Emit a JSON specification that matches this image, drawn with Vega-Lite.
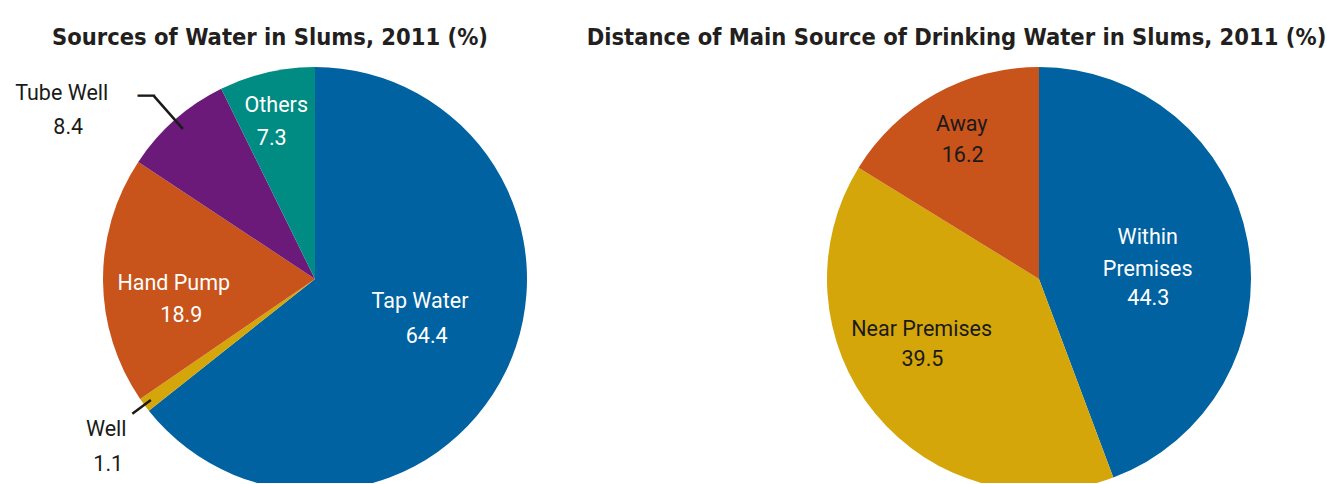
{
  "$schema": "https://vega.github.io/schema/vega-lite/v6.json",
  "background": "white",
  "padding": {"top": 25, "left": 0, "right": 0, "bottom": 0},
  "bounds": "flush",
  "spacing": 121,
  "config": {"view": {"stroke": null}},
  "datasets": {
    "sources": [
      {"source": "Tap Water", "value": 64.4, "order": 1},
      {"source": "Well", "value": 1.1, "order": 2},
      {"source": "Hand Pump", "value": 18.9, "order": 3},
      {"source": "Tube Well", "value": 8.4, "order": 4},
      {"source": "Others", "value": 7.3, "order": 5}
    ],
    "distance": [
      {"source": "Within Premises", "value": 44.3, "order": 1},
      {"source": "Near Premises", "value": 39.5, "order": 2},
      {"source": "Away", "value": 16.2, "order": 3}
    ]
  },
  "hconcat": [
    {
      "width": 630,
      "height": 424,
      "data": {"name": "sources"},
      "title": {"text": "Sources of Water in Slums, 2011 (%)", "frame": "group", "font": "DejaVu Sans Condensed", "fontSize": 23.5, "fontWeight": "bold", "color": "#231f20", "anchor": "middle", "baseline": "alphabetic", "offset": -9, "dx": -45},
      "encoding": {
        "theta": {"field": "value", "type": "quantitative", "stack": true},
        "order": {"field": "order", "type": "quantitative"},
        "detail": {"field": "source", "type": "nominal"}
      },
      "layer": [
        {"mark": {"type": "arc", "radius": 212, "yOffset": 8, "clip": true},
         "encoding": {"color": {"field": "source", "type": "nominal", "legend": null,
           "scale": {"domain": ["Tap Water", "Well", "Hand Pump", "Tube Well", "Others"], "range": ["#0062a0", "#d4a60a", "#c8531b", "#6b1a7a", "#008c82"]}}}},
        {"mark": {"type": "arc", "radius": 244, "radius2": 200, "padAngle": 3, "yOffset": 8, "clip": true, "fillOpacity": 0, "stroke": "#1a1a1a", "strokeWidth": 2.5},
         "encoding": {"strokeOpacity": {"condition": {"test": "datum.source === 'Tube Well'", "value": 1}, "value": 0}}},
        {"mark": {"type": "arc", "radius": 227, "radius2": 204, "padAngle": 3, "yOffset": 8, "clip": true, "fillOpacity": 0, "stroke": "#1a1a1a", "strokeWidth": 2.5},
         "encoding": {"strokeOpacity": {"condition": {"test": "datum.source === 'Well'", "value": 1}, "value": 0}}},
        {"mark": {"type": "text", "radius": 249, "dx": -4.2, "dy": 16.3, "clip": true, "baseline": "alphabetic", "font": "Liberation Sans", "fontSize": 16.5, "fill": "#1a1a1a", "stroke": "#1a1a1a", "strokeWidth": 1},
         "encoding": {"text": {"condition": {"test": "datum.source === 'Tube Well'", "value": "—"}, "value": ""}}},

        {"mark": {"type": "text", "radius": 120, "dx": -3, "dy": -14.9, "clip": true, "baseline": "alphabetic", "font": "Roboto", "fontSize": 21.5, "fill": "#ffffff"},
         "encoding": {"text": {"condition": {"test": "datum.source === 'Tap Water'", "field": "source", "type": "nominal"}, "value": ""}}},
        {"mark": {"type": "text", "radius": 120, "dx": 3.7, "dy": 19.8, "clip": true, "baseline": "alphabetic", "font": "Roboto", "fontSize": 21.5, "fill": "#ffffff"},
         "encoding": {"text": {"condition": {"test": "datum.source === 'Tap Water'", "field": "value", "type": "quantitative", "format": ".1f"}, "value": ""}}},

        {"mark": {"type": "text", "radius": 138, "dx": -3.2, "dy": 17.6, "clip": true, "baseline": "alphabetic", "font": "Roboto", "fontSize": 21.5, "fill": "#ffffff"},
         "encoding": {"text": {"condition": {"test": "datum.source === 'Hand Pump'", "field": "source", "type": "nominal"}, "value": ""}}},
        {"mark": {"type": "text", "radius": 138, "dx": 4.3, "dy": 50.2, "clip": true, "baseline": "alphabetic", "font": "Roboto", "fontSize": 21.5, "fill": "#ffffff"},
         "encoding": {"text": {"condition": {"test": "datum.source === 'Hand Pump'", "field": "value", "type": "quantitative", "format": ".1f"}, "value": ""}}},

        {"mark": {"type": "text", "radius": 160, "dx": -2.4, "dy": -2.9, "clip": true, "baseline": "alphabetic", "font": "Roboto", "fontSize": 21.5, "fill": "#ffffff"},
         "encoding": {"text": {"condition": {"test": "datum.source === 'Others'", "field": "source", "type": "nominal"}, "value": ""}}},
        {"mark": {"type": "text", "radius": 160, "dx": -6.9, "dy": 29.8, "clip": true, "baseline": "alphabetic", "font": "Roboto", "fontSize": 21.5, "fill": "#ffffff"},
         "encoding": {"text": {"condition": {"test": "datum.source === 'Others'", "field": "value", "type": "quantitative", "format": ".1f"}, "value": ""}}},

        {"mark": {"type": "text", "radius": 280, "dx": -68.3, "dy": 38.9, "clip": true, "baseline": "alphabetic", "font": "Roboto", "fontSize": 21.5, "fill": "#1a1a1a"},
         "encoding": {"text": {"condition": {"test": "datum.source === 'Tube Well'", "field": "source", "type": "nominal"}, "value": ""}}},
        {"mark": {"type": "text", "radius": 280, "dx": -61.7, "dy": 73.2, "clip": true, "baseline": "alphabetic", "font": "Roboto", "fontSize": 21.5, "fill": "#1a1a1a"},
         "encoding": {"text": {"condition": {"test": "datum.source === 'Tube Well'", "field": "value", "type": "quantitative", "format": ".1f"}, "value": ""}}},

        {"mark": {"type": "text", "radius": 260, "dx": 0.5, "dy": 10.9, "clip": true, "baseline": "alphabetic", "font": "Roboto", "fontSize": 21.5, "fill": "#1a1a1a"},
         "encoding": {"text": {"condition": {"test": "datum.source === 'Well'", "field": "source", "type": "nominal"}, "value": ""}}},
        {"mark": {"type": "text", "radius": 260, "dx": 2.5, "dy": 45.3, "clip": true, "baseline": "alphabetic", "font": "Roboto", "fontSize": 21.5, "fill": "#1a1a1a"},
         "encoding": {"text": {"condition": {"test": "datum.source === 'Well'", "field": "value", "type": "quantitative", "format": ".1f"}, "value": ""}}}
      ]
    },
    {
      "width": 576,
      "height": 424,
      "data": {"name": "distance"},
      "title": {"text": "Distance of Main Source of Drinking Water in Slums, 2011 (%)", "frame": "group", "font": "DejaVu Sans Condensed", "fontSize": 23.5, "fontWeight": "bold", "color": "#231f20", "anchor": "middle", "baseline": "alphabetic", "offset": -9, "dx": -82.5},
      "encoding": {
        "theta": {"field": "value", "type": "quantitative", "stack": true},
        "order": {"field": "order", "type": "quantitative"},
        "detail": {"field": "source", "type": "nominal"}
      },
      "layer": [
        {"mark": {"type": "arc", "radius": 212, "yOffset": 8, "clip": true},
         "encoding": {"color": {"field": "source", "type": "nominal", "legend": null,
           "scale": {"domain": ["Within Premises", "Near Premises", "Away"], "range": ["#0062a0", "#d4a60a", "#c8531b"]}}}},

        {"mark": {"type": "text", "radius": 112, "dx": -1.5, "dy": -7.05, "clip": true, "baseline": "alphabetic", "lineBreak": " ", "lineHeight": 31.7, "font": "Roboto", "fontSize": 21.5, "fill": "#ffffff"},
         "encoding": {"text": {"condition": {"test": "datum.source === 'Within Premises'", "field": "source", "type": "nominal"}, "value": ""}}},
        {"mark": {"type": "text", "radius": 112, "dx": -0.9, "dy": 53.65, "clip": true, "baseline": "alphabetic", "font": "Roboto", "fontSize": 21.5, "fill": "#ffffff"},
         "encoding": {"text": {"condition": {"test": "datum.source === 'Within Premises'", "field": "value", "type": "quantitative", "format": ".1f"}, "value": ""}}},

        {"mark": {"type": "text", "radius": 140, "dx": -9.2, "dy": -23.7, "clip": true, "baseline": "alphabetic", "font": "Roboto", "fontSize": 21.5, "fill": "#1a1a1a"},
         "encoding": {"text": {"condition": {"test": "datum.source === 'Near Premises'", "field": "source", "type": "nominal"}, "value": ""}}},
        {"mark": {"type": "text", "radius": 140, "dx": -8.4, "dy": 6.3, "clip": true, "baseline": "alphabetic", "font": "Roboto", "fontSize": 21.5, "fill": "#1a1a1a"},
         "encoding": {"text": {"condition": {"test": "datum.source === 'Near Premises'", "field": "value", "type": "quantitative", "format": ".1f"}, "value": ""}}},

        {"mark": {"type": "text", "radius": 150, "dx": -4.2, "dy": -9.3, "clip": true, "baseline": "alphabetic", "font": "Roboto", "fontSize": 21.5, "fill": "#1a1a1a"},
         "encoding": {"text": {"condition": {"test": "datum.source === 'Away'", "field": "source", "type": "nominal"}, "value": ""}}},
        {"mark": {"type": "text", "radius": 150, "dx": -3.2, "dy": 21.7, "clip": true, "baseline": "alphabetic", "font": "Roboto", "fontSize": 21.5, "fill": "#1a1a1a"},
         "encoding": {"text": {"condition": {"test": "datum.source === 'Away'", "field": "value", "type": "quantitative", "format": ".1f"}, "value": ""}}}
      ]
    }
  ]
}
